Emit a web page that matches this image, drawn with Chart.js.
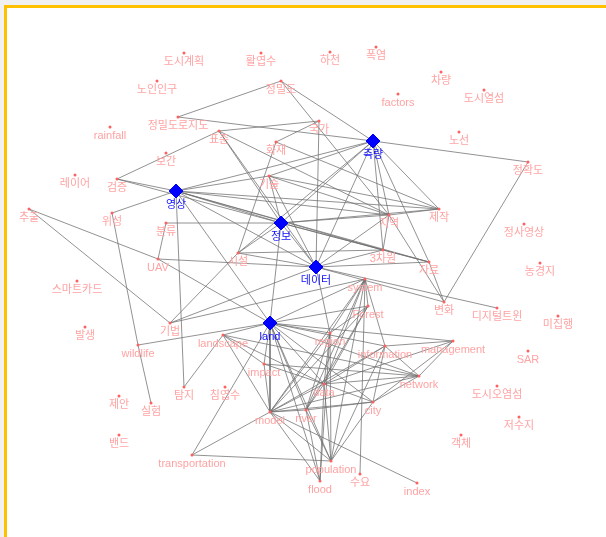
<!DOCTYPE html>
<html>
<head>
<meta charset="utf-8">
<script src="https://cdn.jsdelivr.net/npm/chart.js@4.4.1/dist/chart.umd.min.js"></script>
<style>
  html, body { margin: 0; padding: 0; background: #f0f0f0; overflow: hidden; }
  #frame {
    position: absolute; left: 4px; top: 5px; width: 640px; height: 600px;
    border: 3px solid #ffc000; background: #fff;
  }
  #chartEl { position: absolute; left: 0; top: 0; }
</style>
</head>
<body>
<div id="frame"></div>
<canvas id="chartEl" width="606" height="537"></canvas>
<script>
/************ DATA ************/
// node names and layout positions
const nodeNames = [
  "도시계획", "활엽수", "하천", "폭염", "차량", "노인인구", "정밀도", "factors", "도시열섬",
  "정밀도로지도", "국가", "rainfall", "표준", "노선", "측량", "화재", "보간", "정확도",
  "레이어", "검증", "기술", "영상", "추출", "위성", "제작", "지역", "분류", "정보",
  "정사영상", "시설", "3차원", "UAV", "자료", "농경지", "데이터", "스마트카드", "system",
  "변화", "Forest", "디지털트윈", "미집행", "기법", "발생", "land", "landscape", "region",
  "management", "wildlife", "information", "SAR", "impact", "network", "data", "도시오염섬",
  "탐지", "침엽수", "제안", "city", "실험", "model", "river", "저수지", "밴드", "객체",
  "transportation", "population", "수요", "flood", "index"
];
const nodeX = [
  184, 261, 330, 376, 441, 157, 281, 398, 484,
  178, 319, 110, 219, 459, 373, 276, 166, 528,
  75, 117, 269, 176, 29, 112, 439, 389, 166, 281,
  524, 238, 383, 158, 429, 540, 316, 77, 365,
  444, 368, 497, 558, 170, 85, 270, 223, 330,
  453, 138, 385, 528, 264, 419, 324, 497,
  184, 225, 119, 373, 151, 270, 306, 519, 119, 461,
  192, 331, 360, 320, 417
];
const nodeY = [
  53, 53, 52, 47, 72, 81, 81, 94, 90,
  117, 121, 127, 131, 132, 141, 142, 153, 162,
  175, 179, 176, 191, 209, 213, 209, 215, 223, 223,
  224, 253, 250, 259, 262, 263, 267, 281, 279,
  302, 306, 308, 316, 323, 327, 323, 335, 333,
  341, 345, 346, 351, 364, 376, 384, 386,
  387, 387, 396, 402, 403, 412, 410, 417, 435, 435,
  455, 461, 474, 481, 483
];
const hubs = ["측량", "영상", "정보", "데이터", "land"];

const edges = [
  ["정밀도로지도", "정밀도"], ["정밀도로지도", "측량"], ["정밀도", "측량"], ["정밀도", "지역"],
  ["측량", "정확도"], ["정확도", "변화"],
  ["표준", "국가"], ["표준", "검증"], ["표준", "정보"], ["표준", "데이터"], ["표준", "지역"],
  ["국가", "화재"], ["국가", "데이터"], ["화재", "제작"], ["화재", "시설"],
  ["기술", "영상"], ["기술", "지역"], ["기술", "제작"], ["기술", "데이터"], ["기술", "측량"],
  ["영상", "검증"], ["정보", "검증"], ["영상", "위성"], ["영상", "정보"], ["영상", "데이터"],
  ["영상", "지역"], ["영상", "3차원"], ["영상", "자료"], ["영상", "제작"], ["영상", "land"],
  ["영상", "탐지"],
  ["분류", "정보"], ["분류", "UAV"], ["UAV", "추출"], ["UAV", "데이터"], ["UAV", "land"],
  ["추출", "기법"], ["위성", "wildlife"], ["wildlife", "실험"], ["wildlife", "land"],
  ["정보", "측량"], ["정보", "데이터"], ["정보", "지역"], ["정보", "제작"], ["정보", "3차원"],
  ["정보", "자료"], ["정보", "시설"], ["정보", "land"], ["정보", "기술"],
  ["데이터", "측량"], ["데이터", "지역"], ["데이터", "3차원"], ["데이터", "자료"],
  ["데이터", "변화"], ["데이터", "디지털트윈"], ["데이터", "시설"], ["데이터", "region"],
  ["측량", "지역"], ["측량", "제작"], ["측량", "3차원"], ["측량", "자료"], ["측량", "영상"],
  ["시설", "측량"], ["시설", "3차원"], ["시설", "기법"],
  ["지역", "제작"], ["지역", "3차원"], ["지역", "변화"], ["3차원", "자료"], ["자료", "변화"],
  ["기법", "system"], ["기법", "데이터"],
  ["land", "landscape"], ["land", "region"], ["land", "system"], ["land", "Forest"],
  ["land", "management"], ["land", "information"], ["land", "impact"], ["land", "data"],
  ["land", "model"], ["land", "river"], ["land", "city"], ["land", "population"],
  ["land", "flood"], ["land", "network"], ["land", "transportation"],
  ["landscape", "탐지"], ["landscape", "model"], ["landscape", "impact"], ["landscape", "data"],
  ["landscape", "network"],
  ["system", "Forest"], ["system", "region"], ["system", "data"], ["system", "model"],
  ["system", "river"], ["system", "population"], ["system", "수요"], ["system", "information"],
  ["Forest", "data"], ["Forest", "model"], ["Forest", "river"], ["Forest", "region"],
  ["region", "data"], ["region", "model"], ["region", "river"], ["region", "population"],
  ["region", "flood"],
  ["management", "information"], ["management", "network"], ["management", "data"],
  ["management", "city"],
  ["information", "data"], ["information", "model"], ["information", "network"],
  ["information", "city"], ["information", "population"],
  ["impact", "data"], ["impact", "network"], ["impact", "model"],
  ["network", "data"], ["network", "model"], ["network", "city"],
  ["data", "city"], ["data", "model"], ["data", "river"], ["data", "population"], ["data", "flood"],
  ["model", "river"], ["model", "city"], ["model", "transportation"], ["model", "population"],
  ["model", "flood"], ["model", "index"],
  ["river", "population"], ["river", "flood"], ["river", "city"],
  ["population", "transportation"], ["city", "population"]
];

/************ BUILD DATASETS ************/
const pos = {};
nodeNames.forEach((n, i) => pos[n] = { x: nodeX[i], y: nodeY[i], name: n });

const edgePoints = [];
edges.forEach(([a, b]) => {
  edgePoints.push({ x: pos[a].x, y: pos[a].y });
  edgePoints.push({ x: pos[b].x, y: pos[b].y });
  edgePoints.push({ x: pos[b].x, y: null });
});

const smallNodes = nodeNames.filter(n => !hubs.includes(n)).map(n => pos[n]);
const hubNodes = hubs.map(n => pos[n]);

/************ LABELS ************/
const labelPlugin = {
  id: "nodeLabels",
  afterDatasetsDraw(chart) {
    const { ctx, scales: { x, y } } = chart;
    ctx.save();
    ctx.textAlign = "center";
    ctx.textBaseline = "middle";
    nodeNames.forEach(n => {
      const p = pos[n];
      const hub = hubs.includes(n);
      ctx.font = '11px "Liberation Sans", "Noto Sans CJK KR", sans-serif';
      ctx.fillStyle = hub ? "#1010ff" : "#ffa3a3";
      ctx.fillText(n, x.getPixelForValue(p.x), y.getPixelForValue(p.y) + (hub ? 14 : 9));
    });
    ctx.restore();
  }
};

/************ CHART ************/
new Chart(document.getElementById("chartEl"), {
  type: "scatter",
  data: {
    datasets: [
      {
        data: edgePoints,
        showLine: true,
        spanGaps: false,
        borderColor: "rgba(110,110,110,0.75)",
        borderWidth: 1,
        pointRadius: 0,
        order: 3
      },
      {
        data: smallNodes,
        pointRadius: 1.5,
        pointBackgroundColor: "#ff6060",
        pointBorderWidth: 0,
        order: 2
      },
      {
        data: hubNodes,
        pointStyle: "rectRot",
        pointRadius: 7,
        pointBackgroundColor: "#0000ff",
        pointBorderColor: "#0000ff",
        pointBorderWidth: 1,
        order: 1
      }
    ]
  },
  options: {
    responsive: false,
    animation: false,
    layout: { padding: 0, autoPadding: false },
    plugins: { legend: { display: false }, tooltip: { enabled: false } },
    scales: {
      x: { type: "linear", display: false, min: 0, max: 606 },
      y: { type: "linear", display: false, min: 0, max: 537, reverse: true }
    }
  },
  plugins: [labelPlugin]
});
</script>
</body>
</html>
